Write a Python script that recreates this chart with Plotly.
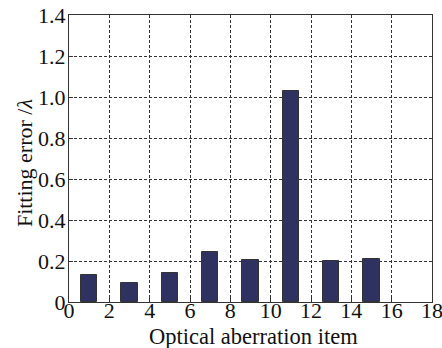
import plotly.graph_objects as go

items = [1, 3, 5, 7, 9, 11, 13, 15]
errors = [0.13, 0.095, 0.14, 0.245, 0.205, 1.03, 0.198, 0.21]
x_ticks = [0, 2, 4, 6, 8, 10, 12, 14, 16, 18]
y_ticks = [0, 0.2, 0.4, 0.6, 0.8, 1.0, 1.2, 1.4]
y_labels = ["0", "0.2", "0.4", "0.6", "0.8", "1.0", "1.2", "1.4"]
x_title = "Optical aberration item"
y_title = "Fitting error /<i>λ</i>"

FONT = "Liberation Serif"
TXT = "#111111"

fig = go.Figure(go.Bar(
    x=items, y=errors, width=0.8,
    marker=dict(color="#2f3160", line=dict(color="#333333", width=1)),
))

axis_common = dict(
    showline=True, linecolor="#333333", linewidth=1.2, mirror=True,
    showgrid=True, gridcolor="#333333", griddash="3px,2px", gridwidth=1,
    ticks="inside", ticklen=4, tickcolor="#333333",
    zeroline=False, tickfont=dict(family=FONT, size=22, color=TXT),
    automargin=False, ticklabeloverflow="allow",
)

fig.update_layout(
    width=442, height=348,
    margin=dict(l=69, r=10, t=15, b=46),
    paper_bgcolor="white", plot_bgcolor="white",
    showlegend=False,
    bargap=0,
    xaxis=dict(range=[0, 18], tickvals=x_ticks, ticktext=[str(v) for v in x_ticks],
               ticklabelstandoff=-12, **axis_common),
    yaxis=dict(range=[0, 1.4], tickvals=y_ticks, ticktext=y_labels,
               ticklabelstandoff=-2, **axis_common),
    annotations=[
        dict(text=x_title, xref="paper", yref="paper", x=0.507, y=0, yshift=-34,
             xanchor="center", yanchor="middle", showarrow=False,
             font=dict(family=FONT, size=22.5, color=TXT)),
        dict(text=y_title, xref="paper", yref="paper", x=0, y=0.484, xshift=-45,
             xanchor="center", yanchor="middle", textangle=-90, showarrow=False,
             font=dict(family=FONT, size=22, color=TXT)),
    ],
)

fig.write_html("out.html", config={"displayModeBar": False},
               post_script="document.body.style.margin='0';")
